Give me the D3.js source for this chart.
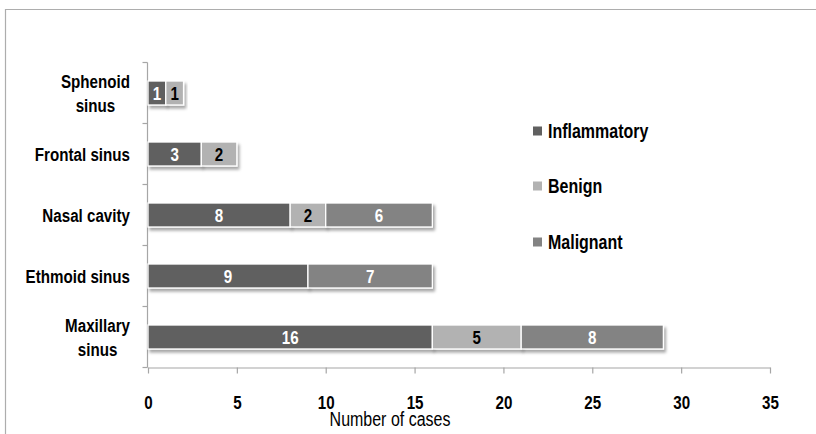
<!DOCTYPE html>
<html><head><meta charset="utf-8">
<script src="https://cdn.jsdelivr.net/npm/d3@7/dist/d3.min.js"></script>
<style>
html,body{margin:0;padding:0;background:#fff;}
text{font-family:"Liberation Sans",Arial,sans-serif;}
</style></head>
<body>
<svg id="chart" width="816" height="434"></svg>
<script>
const categories = ["Sphenoid sinus", "Frontal sinus", "Nasal cavity", "Ethmoid sinus", "Maxillary sinus"];
const labelLines = [["Sphenoid", "sinus"], ["Frontal sinus"], ["Nasal cavity"], ["Ethmoid sinus"], ["Maxillary", "sinus"]];
const seriesNames = ["Inflammatory", "Benign", "Malignant"];
const inflammatory = [1, 3, 8, 9, 16];
const benign = [1, 2, 2, 0, 5];
const malignant = [0, 0, 6, 7, 8];
const xTicks = [0, 5, 10, 15, 20, 25, 30, 35];
const colors = ["#606060", "#b2b2b2", "#838383"];
const labelColors = ["#fff", "#000", "#fff"];

const SX = 0.82; // horizontal compression to mimic a narrow face
const svg = d3.select("#chart");
const defs = svg.append("defs");
const f = defs.append("filter").attr("id","sh").attr("x","-10%").attr("y","-30%").attr("width","130%").attr("height","190%");
f.append("feDropShadow").attr("dx",2).attr("dy",3).attr("stdDeviation",1.8).attr("flood-color","#000").attr("flood-opacity",0.35);

// outer frame (only top/left visible)
svg.append("path").attr("d","M5.5,434V9.5H816").attr("fill","none").attr("stroke","#adadad").attr("stroke-width",1.2);

const x = d3.scaleLinear().domain([0,35]).range([148,770]);
const y = d3.scaleBand().domain(categories).range([62.5,367.5]).paddingInner(0.607).paddingOuter(0.3035);

const seriesData = [inflammatory, benign, malignant];
const rows = categories.map((c,i)=>{
  const o = {cat:c};
  seriesNames.forEach((s,j)=>o[s]=seriesData[j][i]);
  return o;
});
const stacked = d3.stack().keys(seriesNames)(rows);

function place(sel, px, py){ return sel.attr("transform",`translate(${px},${py}) scale(${SX},1)`); }

const axisColor = "#a6a6a6";
// y axis
const yAxisX = 147.5;
const boundaries = categories.map(c=>y(c) - y.step()*y.paddingInner()/2 ).concat([y.range()[1]]);
boundaries[0] = y.range()[0];
const ya = svg.append("g");
ya.append("line").attr("x1",yAxisX).attr("x2",yAxisX).attr("y1",y.range()[0]).attr("y2",y.range()[1]).attr("stroke",axisColor).attr("stroke-width",1.2);
ya.selectAll("line.t").data(boundaries).join("line").attr("class","t")
  .attr("x1",yAxisX-5).attr("x2",yAxisX).attr("y1",d=>d).attr("y2",d=>d).attr("stroke",axisColor).attr("stroke-width",1.2);

// x axis
const xa = svg.append("g").attr("transform",`translate(0,${y.range()[1]})`)
  .call(d3.axisBottom(x).tickValues(xTicks).tickSize(6).tickSizeOuter(0));
xa.select(".domain").attr("stroke",axisColor).attr("stroke-width",1.2);
xa.selectAll(".tick line").attr("stroke",axisColor).attr("stroke-width",1.2);
xa.selectAll(".tick text").attr("y",35).attr("dy","0.35em").attr("fill","#000")
  .attr("transform",`scale(${SX},1)`)
  .style("font-size","18.5px").style("font-weight","bold");

// bars
const g = svg.append("g");
stacked.forEach((layer,j)=>{
  const lg = g.append("g");
  lg.selectAll("rect").data(layer.filter(d=>d[1]-d[0]>0)).join("rect")
    .attr("x",d=>x(d[0])).attr("y",d=>y(d.data.cat))
    .attr("width",d=>x(d[1])-x(d[0])).attr("height",y.bandwidth())
    .attr("fill",colors[j]).attr("stroke","#fff").attr("stroke-width",1.3)
    .attr("filter","url(#sh)");
});
stacked.forEach((layer,j)=>{
  g.append("g").selectAll("text").data(layer.filter(d=>d[1]-d[0]>0)).join("text")
    .each(function(d){ place(d3.select(this),(x(d[0])+x(d[1]))/2, y(d.data.cat)+y.bandwidth()/2); })
    .attr("dy","0.36em").attr("text-anchor","middle")
    .attr("fill",labelColors[j]).style("font-size","18.5px").style("font-weight","bold")
    .text(d=>d[1]-d[0]);
});

// category labels
const labRight = 130;
categories.forEach((c,i)=>{
  const lines = labelLines[i];
  const cy = y(c)+y.bandwidth()/2;
  const t = svg.append("text").style("font-size","18.5px").style("font-weight","bold").attr("fill","#000");
  place(t, labRight, cy);
  if(lines.length===1){
    t.attr("x",0).attr("y",0).attr("dy","0.36em").attr("text-anchor","end").text(lines[0]);
  } else {
    const spans = lines.map((l,k)=>t.append("tspan").attr("y",(k===0?-12:12)).attr("dy","0.36em").text(l));
    let w = 0;
    spans.forEach(s=>{w=Math.max(w,s.node().getComputedTextLength());});
    spans.forEach(s=>s.attr("x",-w/2));
    t.attr("text-anchor","middle");
  }
});

// legend
const legY = [131,186,242];
seriesNames.forEach((s,j)=>{
  svg.append("rect").attr("x",533).attr("y",legY[j]-4.5).attr("width",9).attr("height",9).attr("fill",colors[j]);
  const t = svg.append("text").attr("dy","0.36em")
    .style("font-size","19.5px").style("font-weight","bold").attr("fill","#000").text(s);
  place(t, 548, legY[j]);
});

// axis title
const at = svg.append("text").attr("dy","0.36em").attr("text-anchor","middle")
  .style("font-size","19.5px").attr("fill","#000").text("Number of cases");
place(at, 390, 419);
</script>
</body></html>
